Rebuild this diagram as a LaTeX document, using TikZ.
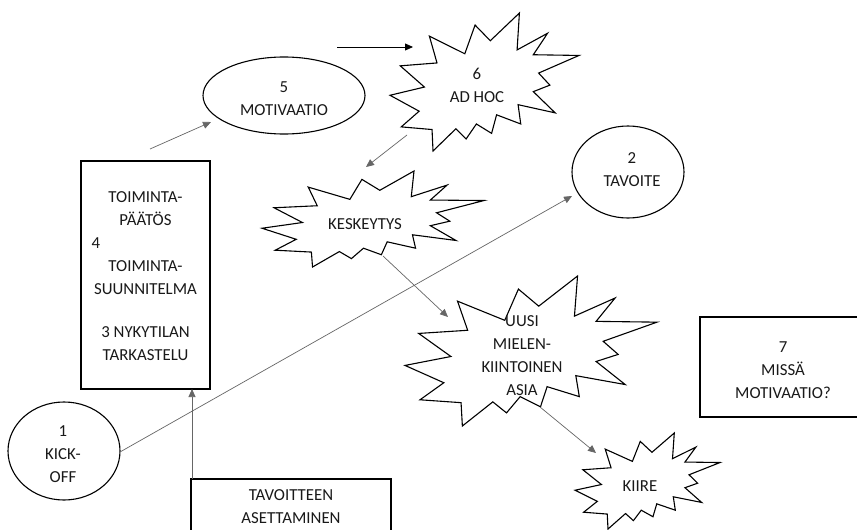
\documentclass[tikz,border=0pt]{standalone}
\usepackage{fontspec}
\setmainfont{Carlito}
\usetikzlibrary{arrows.meta,shapes.geometric}
\tikzset{
  shp/.style={draw=black, line width=1.1pt, fill=white, line join=miter},
  boxline/.style={draw=black, line width=1.1pt},
  txt/.style={align=center, font=\fontsize{16.8}{23}\selectfont, text=black!90, inner sep=0pt},
  arr/.style={draw=black!60, line width=0.7pt, -{Triangle[length=8pt,width=7pt]}},
  arrk/.style={draw=black, line width=0.8pt, -{Triangle[length=8pt,width=7pt]}},
}
\newcommand{\drawburst}[4]{%
  \begin{scope}[shift={(#1,#2)},xscale=#3/216,yscale=#4/216]
    \draw[shp] (114.62,43.42) -- (147.90,0) -- (145.25,57.77) -- (180.07,31.72)
      -- (163.80,65.32) -- (216,66.45) -- (169.85,94.02) -- (182.70,112.90)
      -- (163.80,123.10) -- (188.77,156.32) -- (146.40,143.50) -- (149.42,173.70)
      -- (121.80,159.35) -- (116.12,188.42) -- (98.72,173.70) -- (87,197.12)
      -- (75.27,181.25) -- (49.17,216) -- (48.05,182.40) -- (12.85,178.25)
      -- (33.30,153.70) -- (0,128.77) -- (39.35,115.92) -- (11.72,82.70)
      -- (53.72,78.17) -- (45.02,36.25) -- (85.50,63.82) -- (97.22,18.87) -- cycle;
  \end{scope}}
\begin{document}
\begin{tikzpicture}[x=1pt,y=-1pt]
  \useasboundingbox (0,0) rectangle (857,530);
  \fill[white] (0,0) rectangle (857,530);

  % boxes
  \node[boxline, minimum width=129pt, minimum height=228pt, inner sep=0pt] (boxA) at (145.5,275) {};
  \node[txt] (boxAT) at (145.5,276) {TOIMINTA-\\PÄÄTÖS\\\makebox[108pt][l]{4}\\TOIMINTA-\\SUUNNITELMA\\[20pt]3 NYKYTILAN\\TARKASTELU};

  % box 7: its right side lies beyond the picture edge
  \coordinate (b7a) at (857,317);
  \coordinate (b7b) at (857,417);
  \draw[boxline] (b7a) -- (700,317) -- (700,417) -- (b7b);
  \node[txt] (box7T) at (783,370) {7\\MISSÄ\\MOTIVAATIO?};

  % tavoitteen box: its bottom lies beyond the picture edge
  \coordinate (bTa) at (191,530);
  \coordinate (bTb) at (391,530);
  \draw[boxline] (bTa) -- (191,479) -- (391,479) -- (bTb);
  \node[txt] (boxTT) at (291,507) {TAVOITTEEN\\ASETTAMINEN};

  % ellipses
  \node[shp, ellipse, minimum width=162pt, minimum height=77pt, inner sep=0pt] (motE) at (284,95.5) {};
  \node[txt] (motT) at (284,98.5) {5\\MOTIVAATIO};

  \node[shp, ellipse, minimum width=112pt, minimum height=92pt, inner sep=0pt] (tavE) at (628,172) {};
  \node[txt] (tavT) at (632,170) {2\\TAVOITE};

  \node[shp, ellipse, minimum width=112pt, minimum height=98pt, inner sep=0pt] (kickE) at (64,451) {};
  \node[txt] (kickT) at (63,454.5) {1\\KICK-\\OFF};

  % bursts
  \drawburst{390}{13}{189}{138}
  \node[txt] (adhocT) at (477,85) {6\\AD HOC};

  \drawburst{262}{171}{222}{96}
  \node[txt] (keskT) at (365,224) {KESKEYTYS};

  \drawburst{405}{276}{252}{150}
  \node[txt] (uusiT) at (522,356) {UUSI\\MIELEN-\\KIINTOINEN\\ASIA};

  \drawburst{575}{433}{145}{96}
  \node[txt] (kiireT) at (640,486) {KIIRE};

  % connector ends
  \coordinate (a1s) at (150,149);  \coordinate (a1e) at (211,122);
  \coordinate (a2s) at (337,47);   \coordinate (a2e) at (413,47);
  \coordinate (a3s) at (407,135);  \coordinate (a3e) at (366,167);
  \coordinate (a4s) at (383,256);  \coordinate (a4e) at (448,317);
  \coordinate (a5s) at (120,452);  \coordinate (a5e) at (572,196);
  \coordinate (a6s) at (540,407);  \coordinate (a6e) at (596,453);
  \coordinate (a7s) at (192,479);  \coordinate (a7e) at (192,389);

  \draw[arr] (a1s) -- (a1e);
  \draw[arrk] (a2s) -- (a2e);
  \draw[arr] (a3s) -- (a3e);
  \draw[arr] (a4s) -- (a4e);
  \draw[arr] (a5s) -- (a5e);
  \draw[arr] (a6s) -- (a6e);
  \draw[arr] (a7s) -- (a7e);
\end{tikzpicture}
\end{document}
